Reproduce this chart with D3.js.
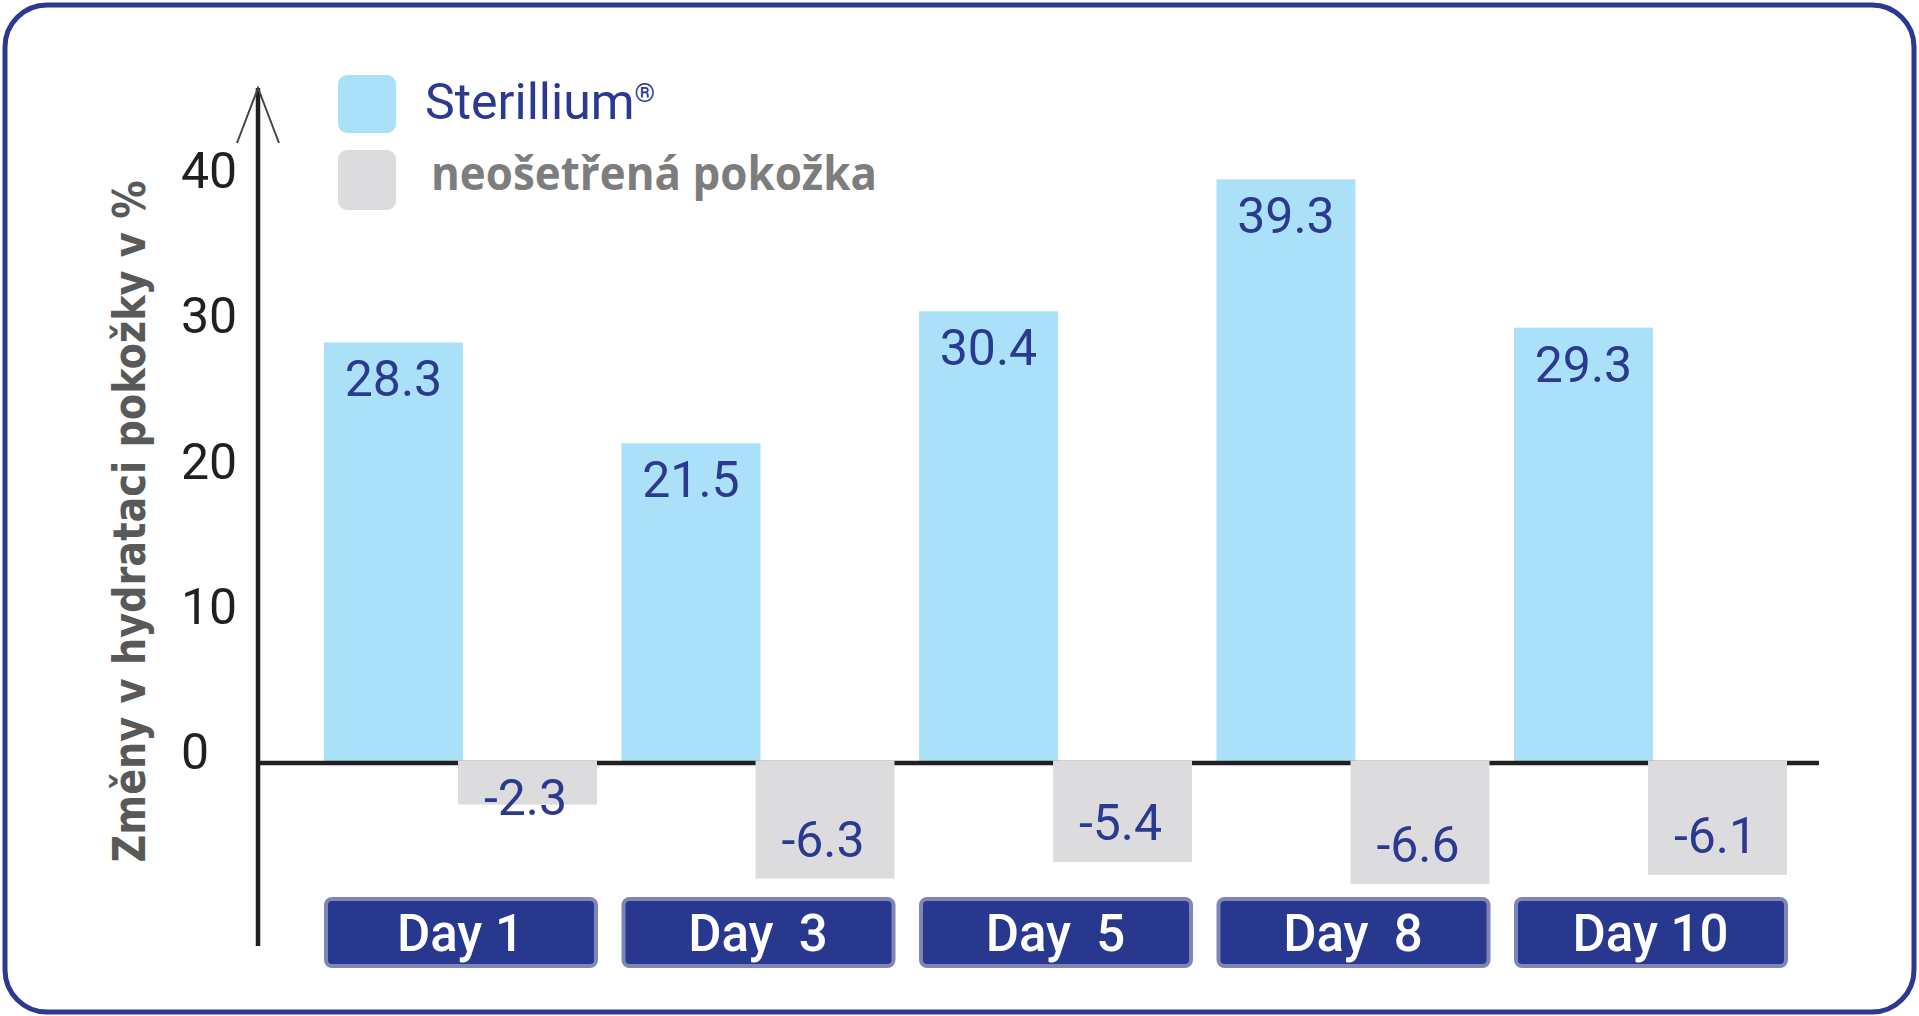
<!DOCTYPE html>
<html lang="cs">
<head>
<meta charset="UTF-8">
<title>Změny v hydrataci pokožky</title>
<style>
    body {
        margin: 0;
        background-color: #ffffff;
    }
    svg {
        display: block;
    }
    text {
        font-family: Roboto, "Liberation Sans", sans-serif;
    }
</style>
<script src="https://d3js.org/d3.v7.min.js"></script>
</head>
<body>
<svg width="1919" height="1016"></svg>
<script>
    // data
    const days = ["Day 1", "Day  3", "Day  5", "Day  8", "Day 10"];
    const sterillium = [28.3, 21.5, 30.4, 39.3, 29.3];
    const untreated = [-2.3, -6.3, -5.4, -6.6, -6.1];
    const yTicks = [0, 10, 20, 30, 40];
    const seriesNames = ["Sterillium", "neošetřená pokožka"];
    const yTitle = "Změny v hydrataci pokožky v %";

    const blue = "#aae1f9", grey = "#dcdcde", navy = "#2b3990";

    const svg = d3.select("svg");

    // frame
    svg.append("rect")
        .attr("x", 5).attr("y", 5)
        .attr("width", 1909).attr("height", 1007)
        .attr("rx", 42)
        .attr("fill", "#fff")
        .attr("stroke", navy)
        .attr("stroke-width", 5);

    // scales (negative part of the original is drawn stretched)
    const y = d3.scaleLinear()
        .domain([-10, 0, 40])
        .range([947, 762, 169]);

    // tick labels in the original sit on a slightly tighter grid
    const yLab = d3.scaleLinear()
        .domain([0, 40])
        .range([751, 170]);

    const x = d3.scaleBand()
        .domain(days)
        .range([324, 1787])
        .paddingInner(0.0824)
        .paddingOuter(0);

    const bw = x.bandwidth();
    const barW = bw * 0.509;

    const rows = days.map((d, i) => ({ day: d, a: sterillium[i], b: untreated[i] }));

    // sterillium bars
    svg.selectAll("rect.pos")
        .data(rows)
        .enter().append("rect")
        .attr("class", "pos")
        .attr("x", d => x(d.day))
        .attr("y", d => y(d.a))
        .attr("width", barW)
        .attr("height", d => y(0) - y(d.a))
        .attr("fill", blue);

    // zero line
    svg.append("line")
        .attr("x1", 258).attr("x2", 1819)
        .attr("y1", y(0) + 1).attr("y2", y(0) + 1)
        .attr("stroke", "#231f20")
        .attr("stroke-width", 4.5);

    // untreated skin bars (cover the zero line)
    svg.selectAll("rect.neg")
        .data(rows)
        .enter().append("rect")
        .attr("class", "neg")
        .attr("x", d => x(d.day) + bw - barW)
        .attr("y", y(0) - 1.5)
        .attr("width", barW)
        .attr("height", d => y(d.b) - y(0) + 1.5)
        .attr("fill", grey);

    // y axis with arrow
    svg.append("line")
        .attr("x1", 258).attr("x2", 258)
        .attr("y1", 88).attr("y2", 946)
        .attr("stroke", "#231f20")
        .attr("stroke-width", 4.5);
    svg.append("path")
        .attr("d", "M237,143 L258,88 L279,143")
        .attr("fill", "none")
        .attr("stroke", "#444")
        .attr("stroke-width", 2);

    // tick labels
    svg.selectAll("text.tick")
        .data(yTicks)
        .enter().append("text")
        .attr("class", "tick")
        .attr("x", 181)
        .attr("y", d => yLab(d) + 18)
        .attr("font-size", 50)
        .attr("fill", "#231f20")
        .text(d => d);

    // axis title
    svg.append("text")
        .attr("transform", "translate(145,521.5) rotate(-90)")
        .attr("text-anchor", "middle")
        .style("font-family", "'DejaVu Sans', sans-serif")
        .attr("font-weight", "bold")
        .attr("font-size", 45)
        .attr("textLength", 682)
        .attr("lengthAdjust", "spacingAndGlyphs")
        .attr("fill", "#595959")
        .text(yTitle);

    // value labels
    svg.selectAll("text.va")
        .data(rows)
        .enter().append("text")
        .attr("class", "va")
        .attr("x", d => x(d.day) + barW / 2)
        .attr("y", d => y(d.a) + 54)
        .attr("text-anchor", "middle")
        .attr("font-size", 50)
        .attr("fill", navy)
        .text(d => d.a.toFixed(1));

    svg.selectAll("text.vb")
        .data(rows)
        .enter().append("text")
        .attr("class", "vb")
        .attr("x", d => x(d.day) + bw - barW / 2 - 2)
        .attr("y", d => Math.max(y(d.b) - 22, y(0) + 53))
        .attr("text-anchor", "middle")
        .attr("font-size", 50)
        .attr("fill", navy)
        .text(d => d.b.toFixed(1));

    // day buttons
    const btn = svg.selectAll("g.day")
        .data(days)
        .enter().append("g")
        .attr("class", "day");
    btn.append("rect")
        .attr("x", d => x(d) + 2)
        .attr("y", 899)
        .attr("width", bw - 3)
        .attr("height", 67)
        .attr("rx", 6)
        .attr("fill", "#29388f")
        .attr("stroke", "#8085b8")
        .attr("stroke-width", 4);
    btn.append("text")
        .attr("x", d => x(d) + bw / 2)
        .attr("y", 951)
        .attr("text-anchor", "middle")
        .attr("font-size", 51)
        .attr("font-weight", 500)
        .attr("fill", "#fff")
        .style("white-space", "pre")
        .text(d => d);

    // legend
    svg.append("rect")
        .attr("x", 338).attr("y", 75)
        .attr("width", 58).attr("height", 58)
        .attr("rx", 9)
        .attr("fill", blue);
    svg.append("rect")
        .attr("x", 338).attr("y", 150)
        .attr("width", 58).attr("height", 60)
        .attr("rx", 9)
        .attr("fill", grey);

    const l1 = svg.append("text")
        .attr("x", 425).attr("y", 119)
        .attr("font-size", 50)
        .attr("fill", navy)
        .text(seriesNames[0]);
    l1.append("tspan")
        .attr("font-size", 26)
        .attr("dy", -17)
        .text("®");

    svg.append("text")
        .attr("x", 431).attr("y", 190)
        .style("font-family", "'Open Sans', sans-serif")
        .attr("font-weight", 700)
        .attr("font-size", 46)
        .attr("textLength", 446)
        .attr("lengthAdjust", "spacingAndGlyphs")
        .attr("fill", "#7d7d7d")
        .text(seriesNames[1]);
</script>
</body>
</html>
